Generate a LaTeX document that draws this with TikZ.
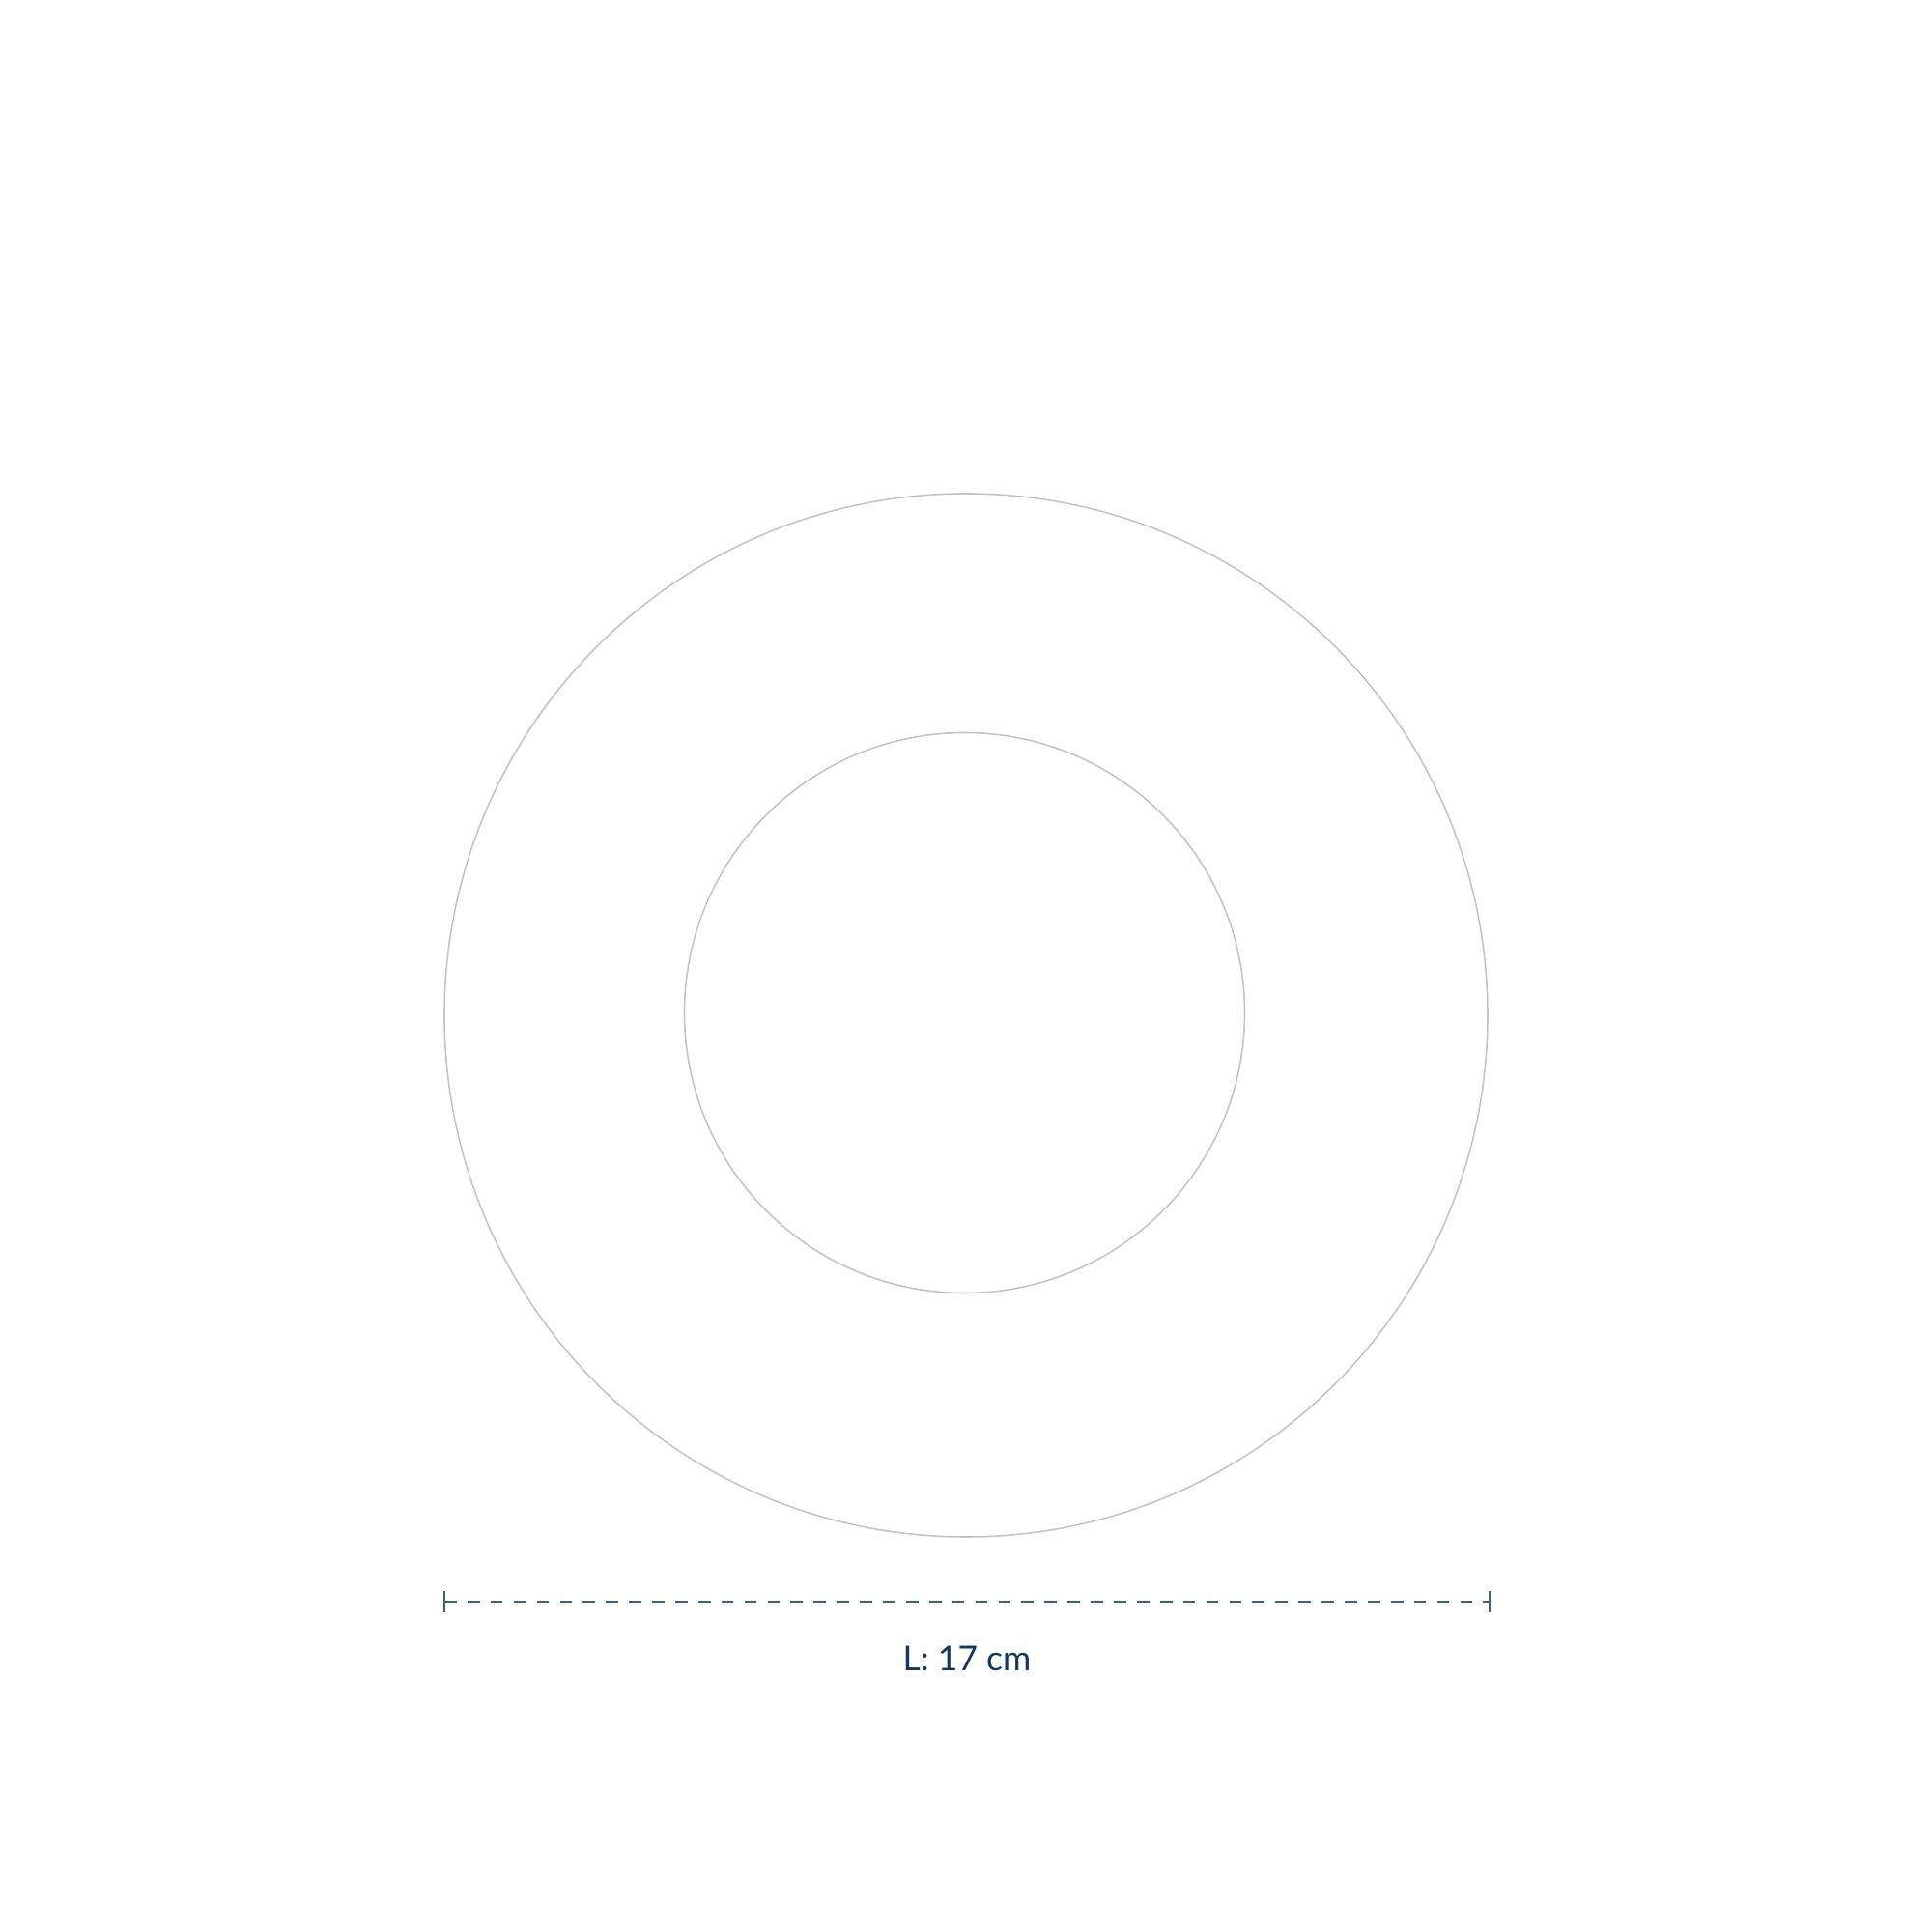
\documentclass[tikz,border=0pt]{standalone}
\usepackage{fontspec}
\setmainfont{Lato}
\usepackage{tikz}
\usetikzlibrary{positioning,calc}

\begin{document}
\begin{tikzpicture}
\colorlet{ring edge}{black!23}
\definecolor{dim line}{HTML}{3F6178}
\definecolor{dim text}{HTML}{16385A}
\tikzset{
     outline/.style={draw=ring edge, line width=0.45pt, inner sep=0pt},
     dimline/.style={draw=dim line, line width=0.6pt, dash pattern=on 3.6pt off 3.2pt},
     dimtick/.style={draw=dim line, line width=0.6pt}}

\useasboundingbox (0,0) rectangle (20,20);

% The rings
\node (outerring) [circle, minimum size=10.8cm, outline] at (10.0,9.49) {};
\node (innerring) [circle, minimum size=5.8cm, outline] at (9.985,9.515) {};

% The dimension
\coordinate (dimleft) at (4.60,3.42);
\coordinate (dimright) at (15.42,3.42);
\draw [dimline] (dimleft) -- (dimright);
\draw [dimtick] ([yshift=-0.11cm]dimleft) -- ([yshift=0.11cm]dimleft);
\draw [dimtick] ([yshift=-0.11cm]dimright) -- ([yshift=0.11cm]dimright);

\node (dimlabel) [below=0.45cm of {$(dimleft)!0.5!(dimright)$}, text=dim text, font=\fontsize{10.1}{12}\selectfont, inner sep=0pt] {L: 17 cm};
\end{tikzpicture}
\end{document}
